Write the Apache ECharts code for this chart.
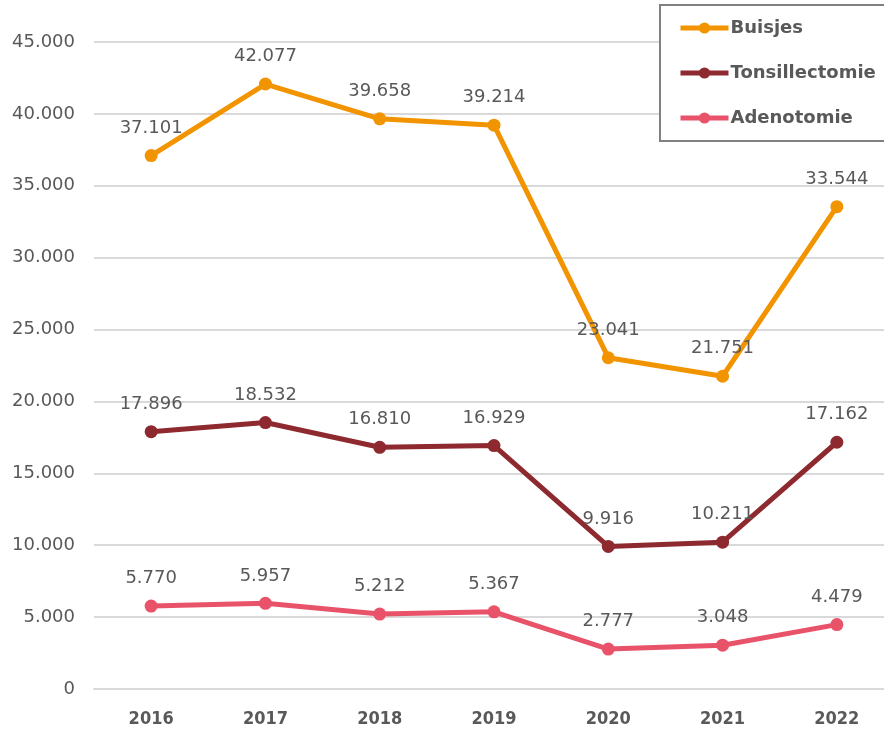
<!DOCTYPE html>
<html>
<head>
<meta charset="utf-8">
<script src="https://cdn.jsdelivr.net/npm/echarts@6/dist/echarts.min.js"></script>
<style>
  html, body { margin: 0; padding: 0; background: #fff; }
  #main { width: 884px; height: 732px; }
</style>
</head>
<body>
<div id="main"></div>
<script>
var years = ['2016', '2017', '2018', '2019', '2020', '2021', '2022'];
var buisjes = [37101, 42077, 39658, 39214, 23041, 21751, 33544];
var tonsillectomie = [17896, 18532, 16810, 16929, 9916, 10211, 17162];
var adenotomie = [5770, 5957, 5212, 5367, 2777, 3048, 4479];

// getallen met punt als duizendtal-scheiding
function fmt(v) {
    return String(v).replace(/\B(?=(\d{3})+(?!\d))/g, '.');
}

var txt = '#595959';
var font = '"DejaVu Sans", sans-serif';

function lijn(name, data, color) {
    return {
        name: name,
        type: 'line',
        data: data,
        symbol: 'circle',
        symbolSize: 13,
        lineStyle: { width: 5, color: color },
        itemStyle: { color: color },
        label: {
            show: true,
            position: 'top',
            distance: 12,
            color: txt,
            fontSize: 18,
            fontFamily: font,
            formatter: function (p) { return fmt(p.value); }
        }
    };
}

var myChart = echarts.init(document.getElementById('main'));
var option = {
    backgroundColor: '#fff',
    animation: false,
    grid: { left: 94, width: 800, top: 42, bottom: 43, outerBoundsMode: 'none', containLabel: false },
    legend: {
        orient: 'vertical',
        left: 660,
        top: 5,
        itemWidth: 48,
        itemHeight: 14,
        itemGap: 27,
        padding: [14, 50, 14, 18],
        borderColor: '#808080',
        borderWidth: 2,
        backgroundColor: '#fff',
        lineStyle: { width: 5 },
        textStyle: { color: txt, fontSize: 18, fontWeight: 'bold', fontFamily: font, padding: [0, 0, 0, -3] },
        data: ['Buisjes', 'Tonsillectomie', 'Adenotomie']
    },
    xAxis: {
        type: 'category',
        data: years,
        axisLine: { lineStyle: { color: '#d9d9d9', width: 2 } },
        axisTick: { show: false },
        axisLabel: {
            color: txt,
            fontSize: 18,
            fontWeight: 'bold',
            fontFamily: '"DejaVu Sans Condensed", "Liberation Sans Narrow", sans-serif',
            margin: 21
        }
    },
    yAxis: {
        type: 'value',
        min: 0,
        max: 45000,
        interval: 5000,
        axisLine: { show: false },
        axisTick: { show: false },
        splitLine: { lineStyle: { color: '#d9d9d9', width: 2 } },
        axisLabel: {
            color: txt,
            fontSize: 18,
            fontFamily: font,
            margin: 19,
            formatter: function (v) { return fmt(v); }
        }
    },
    series: [
        lijn('Buisjes', buisjes, '#f29400'),
        lijn('Tonsillectomie', tonsillectomie, '#8e2a2f'),
        lijn('Adenotomie', adenotomie, '#e9536a')
    ]
};
myChart.setOption(option);
</script>
</body>
</html>
